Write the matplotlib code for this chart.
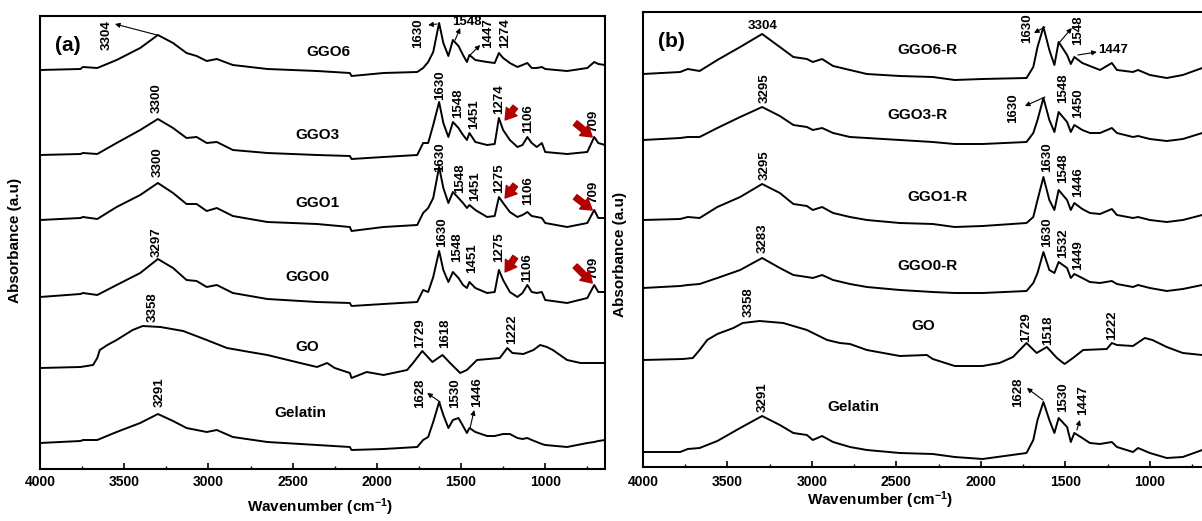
import matplotlib
matplotlib.use('Agg')
import matplotlib.pyplot as plt
from matplotlib.ticker import MultipleLocator

plt.rcParams['font.family'] = ['Liberation Sans', 'DejaVu Sans']
plt.rcParams['font.weight'] = 'bold'
plt.rcParams['mathtext.default'] = 'regular'

# ---- panel (a): stacked FTIR spectra (a.u.) ----
wn_a = [4000, 3760, 3745, 3660, 3545, 3405, 3300, 3210, 3130, 3070,
        3010, 2950, 2855, 2650, 2355, 2160, 2150, 1960, 1760, 1725,
        1695, 1665, 1630, 1605, 1575, 1548, 1515, 1488, 1465, 1450,
        1415, 1345, 1300, 1275, 1250, 1210, 1165, 1135, 1106, 1080,
        1050, 1020, 1000, 870, 750, 709, 685, 645]
ggo6 = [399, 400, 402, 401, 409, 421, 434, 426, 416, 413,
        408, 410, 404, 400, 398, 396, 393, 396, 397, 401,
        407, 417, 446, 426, 413, 429, 423, 414, 407, 414,
        409, 407, 406, 416, 411, 406, 402, 404, 406, 401,
        401, 402, 400, 398, 401, 407, 405, 404]
ggo3 = [314, 315, 316, 315, 326, 339, 350, 341, 331, 332,
        326, 327, 319, 316, 314, 313, 310, 312, 314, 326,
        326, 344, 367, 346, 332, 347, 341, 334, 329, 336,
        327, 324, 325, 351, 339, 329, 322, 324, 332, 326,
        322, 326, 317, 315, 317, 332, 326, 324]
ggo1 = [249, 251, 252, 250, 262, 274, 286, 276, 265, 265,
        258, 261, 253, 247, 245, 242, 238, 242, 244, 256,
        261, 271, 302, 281, 266, 277, 271, 266, 261, 264,
        259, 252, 253, 272, 266, 257, 252, 254, 257, 253,
        252, 251, 246, 242, 246, 259, 251, 251]
ggo0 = [172, 175, 176, 174, 184, 196, 210, 201, 189, 188,
        182, 184, 176, 170, 167, 166, 163, 165, 167, 179,
        177, 192, 218, 199, 187, 197, 191, 184, 181, 187,
        181, 176, 177, 199, 189, 177, 172, 176, 184, 177,
        176, 177, 169, 166, 171, 184, 177, 177]
gelatin_a = [26, 28, 29, 29, 37, 46, 55, 48, 41, 39,
             37, 39, 32, 27, 24, 22, 19, 20, 22, 29,
             32, 47, 67, 54, 41, 49, 51, 43, 36, 41,
             37, 33, 33, 34, 35, 35, 31, 30, 31, 29,
             27, 25, 24, 22, 26, 27, 28, 29]
wn_go_a = [4000, 3760, 3685, 3660, 3645, 3600, 3545, 3450, 3390, 3285,
           3150, 3010, 2890, 2755, 2650, 2455, 2355, 2295, 2250, 2160,
           2150, 2060, 1960, 1820, 1785, 1730, 1670, 1610, 1565, 1505,
           1465, 1405, 1270, 1225, 1195, 1130, 1070, 1030, 990, 955,
           870, 790, 645]
go_a = [101, 102, 104, 111, 119, 124, 129, 139, 143, 142,
        138, 129, 121, 117, 114, 106, 102, 106, 101, 96,
        91, 97, 94, 99, 106, 118, 107, 114, 106, 96,
        99, 109, 111, 121, 116, 115, 119, 124, 122, 119,
        109, 106, 106]

# ---- panel (b) ----
wn_b = [4000, 3780, 3735, 3665, 3560, 3425, 3295, 3190, 3110, 3030,
        2995, 2940, 2875, 2775, 2675, 2480, 2285, 2155, 1990, 1730,
        1690, 1665, 1630, 1595, 1565, 1540, 1490, 1468, 1447, 1400,
        1355, 1295, 1225, 1195, 1100, 1070, 1000, 900, 805, 690]
ggo6_r = [393, 395, 398, 396, 407, 420, 433, 420, 410, 408,
          405, 408, 401, 397, 393, 391, 390, 387, 388, 389,
          400, 420, 440, 417, 402, 425, 412, 403, 410, 404,
          401, 397, 404, 397, 395, 397, 392, 389, 392, 399]
ggo3_r = [327, 329, 330, 330, 339, 350, 360, 351, 342, 340,
          337, 339, 334, 330, 329, 327, 325, 323, 323, 325,
          334, 347, 369, 347, 335, 355, 345, 335, 342, 337,
          334, 334, 339, 334, 330, 331, 328, 326, 328, 334]
ggo1_r = [247, 248, 250, 249, 260, 270, 283, 274, 263, 261,
          257, 260, 254, 250, 247, 244, 243, 240, 241, 244,
          250, 267, 290, 267, 257, 277, 267, 257, 264, 258,
          254, 253, 258, 252, 249, 250, 247, 245, 247, 252]
ggo0_r = [179, 181, 182, 183, 189, 197, 209, 199, 192, 190,
          189, 192, 187, 183, 180, 177, 175, 174, 174, 176,
          184, 194, 215, 197, 194, 205, 199, 189, 193, 189,
          185, 184, 186, 183, 180, 182, 179, 176, 178, 182]
gelatin_b = [15, 15, 18, 19, 26, 39, 51, 42, 34, 32,
             27, 31, 25, 20, 17, 14, 13, 10, 8, 14,
             27, 47, 65, 47, 34, 49, 40, 25, 34, 29,
             24, 23, 25, 20, 15, 19, 14, 9, 10, 17]
wn_go_b = [4000, 3765, 3705, 3665, 3620, 3560, 3465, 3410, 3310, 3170,
           3030, 2910, 2835, 2775, 2675, 2480, 2320, 2285, 2155, 1990,
           1890, 1810, 1730, 1670, 1610, 1550, 1505, 1455, 1395, 1255,
           1225, 1195, 1100, 1030, 985, 900, 805, 690]
go_b = [107, 108, 109, 117, 127, 133, 139, 144, 146, 144,
        137, 127, 124, 123, 117, 111, 112, 108, 101, 101,
        104, 110, 124, 114, 120, 109, 103, 109, 117, 118,
        124, 122, 121, 129, 127, 120, 114, 112]

# sample names and peak labels (text, wavenumber, height)
names_a = [('GGO6', 2289, 417), ('GGO3', 2355, 334), ('GGO1', 2355, 266),
           ('GGO0', 2414, 192), ('GO', 2414, 122), ('Gelatin', 2456, 56)]
peaks_a = [('3304', 3602, 434), ('1630', 1755, 436), ('1447', 1339, 436), ('1274', 1238, 436),
           ('3300', 3305, 371), ('1630', 1624, 384), ('1548', 1517, 366), ('1451', 1422, 355),
           ('1274', 1274, 370), ('1106', 1101, 350), ('709', 715, 348),
           ('3300', 3300, 307), ('1630', 1624, 312), ('1548', 1505, 291), ('1451', 1416, 283),
           ('1275', 1274, 291), ('1106', 1101, 278), ('709', 715, 277),
           ('3297', 3305, 227), ('1630', 1612, 237), ('1548', 1523, 222), ('1451', 1434, 211),
           ('1275', 1274, 222), ('1106', 1107, 201), ('709', 715, 201),
           ('3358', 3329, 162), ('1729', 1743, 136), ('1618', 1594, 136), ('1222', 1196, 140),
           ('3291', 3287, 77), ('1628', 1743, 76), ('1530', 1535, 76), ('1446', 1404, 77)]
flat_a = [('1548', 1464, 447)]
arrows_a = [((3305, 434), (3555, 445)), ((1642, 445), (1695, 444)),
            ((1535, 429), (1505, 441)), ((1446, 414), (1386, 424)),
            ((1624, 67), (1701, 76)), ((1446, 41), (1422, 59))]
red_a = [((1178, 362), (1238, 349)), ((822, 346), (721, 332)),
         ((1178, 284), (1238, 271)), ((822, 272), (721, 259)),
         ((1178, 212), (1238, 197)), ((822, 203), (721, 186))]

names_b = [('GGO6-R', 2314, 417), ('GGO3-R', 2373, 352), ('GGO1-R', 2254, 270),
           ('GGO0-R', 2314, 201), ('GO', 2343, 141), ('Gelatin', 2757, 60)]
peaks_b = [('1630', 1728, 439), ('1548', 1426, 437),
           ('3295', 3278, 379), ('1630', 1811, 359), ('1548', 1515, 379), ('1450', 1426, 364),
           ('3295', 3278, 302), ('1630', 1610, 310), ('1548', 1515, 299), ('1446', 1426, 285),
           ('3283', 3290, 229), ('1630', 1610, 235), ('1532', 1515, 224), ('1449', 1426, 212),
           ('3358', 3373, 165), ('1729', 1734, 140), ('1518', 1604, 137), ('1222', 1225, 142),
           ('3291', 3290, 70), ('1628', 1781, 75), ('1530', 1515, 70), ('1447', 1397, 67)]
flat_b = [('3304', 3290, 441), ('1447', 1219, 417)]
arrows_b = [((1621, 440), (1686, 434)), ((1533, 425), (1462, 439)),
            ((1426, 412), (1314, 415)), ((1621, 370), (1740, 361)),
            ((1633, 67), (1728, 79)), ((1432, 37), (1414, 47))]

fig = plt.figure(figsize=(12.02, 5.21), dpi=100)
ax1 = fig.add_axes([40 / 1202, 52 / 521, 565 / 1202, 453 / 521])
ax2 = fig.add_axes([643 / 1202, 54 / 521, 566 / 1202, 455 / 521])


def draw(ax, curves, names, peaks, flat, arrows, xlim, ylim, tag):
    for x, y in curves:
        ax.plot(x, y, color='black', lw=1.4)
    for t, x, y in names:
        ax.text(x, y, t, ha='center', va='center', fontsize=11, fontweight='bold')
    for t, x, y in peaks:
        ax.text(x, y, t, ha='center', va='center', rotation=90, fontsize=9.5, fontweight='bold')
    for t, x, y in flat:
        ax.text(x, y, t, ha='center', va='center', fontsize=9.5, fontweight='bold')
    for tail, head in arrows:
        ax.annotate('', xy=head, xytext=tail,
                    arrowprops=dict(arrowstyle='-|>', color='black', lw=0.8,
                                    mutation_scale=7, shrinkA=0, shrinkB=0))
    ax.set_xlim(*xlim)
    ax.set_ylim(*ylim)
    ax.set_yticks([])
    ax.xaxis.set_major_locator(MultipleLocator(500))
    ax.xaxis.set_minor_locator(MultipleLocator(250))
    ax.tick_params(axis='x', which='major', direction='in', length=4, width=1.2,
                   labelsize=10, pad=4)
    ax.tick_params(axis='x', which='minor', direction='in', length=2.5, width=1.0)
    for lab in ax.get_xticklabels():
        lab.set_fontweight('bold')
    for s in ax.spines.values():
        s.set_linewidth(1.5)
    ax.text(0.05, 0.935, tag, transform=ax.transAxes, ha='center', va='center',
            fontsize=15, fontweight='bold')


draw(ax1, [(wn_a, ggo6), (wn_a, ggo3), (wn_a, ggo1), (wn_a, ggo0),
           (wn_go_a, go_a), (wn_a, gelatin_a)],
     names_a, peaks_a, flat_a, arrows_a, (4000, 645), (0, 453), '(a)')
for tail, head in red_a:
    ax1.annotate('', xy=head, xytext=tail,
                 arrowprops=dict(arrowstyle='simple,head_length=0.55,head_width=0.7,tail_width=0.3',
                                 color='#b00000', mutation_scale=14, shrinkA=0, shrinkB=0))

draw(ax2, [(wn_b, ggo6_r), (wn_b, ggo3_r), (wn_b, ggo1_r), (wn_b, ggo0_r),
           (wn_go_b, go_b), (wn_b, gelatin_b)],
     names_b, peaks_b, flat_b, arrows_b, (4000, 650), (0, 455), '(b)')
ax2.tick_params(axis='x', which='major', pad=6)

fig.text(0.0125, 0.539, 'Absorbance (a.u)', rotation=90, ha='center', va='center',
         fontsize=11, fontweight='bold')
fig.text(0.516, 0.511, 'Absorbance (a.u)', rotation=90, ha='center', va='center',
         fontsize=11, fontweight='bold')
fig.text(0.266, 0.027, 'Wavenumber (cm$^{-1}$)', ha='center', va='center',
         fontsize=11, fontweight='bold')
fig.text(0.732, 0.040, 'Wavenumber (cm$^{-1}$)', ha='center', va='center',
         fontsize=11, fontweight='bold')

fig.savefig('out.png', dpi=100)
